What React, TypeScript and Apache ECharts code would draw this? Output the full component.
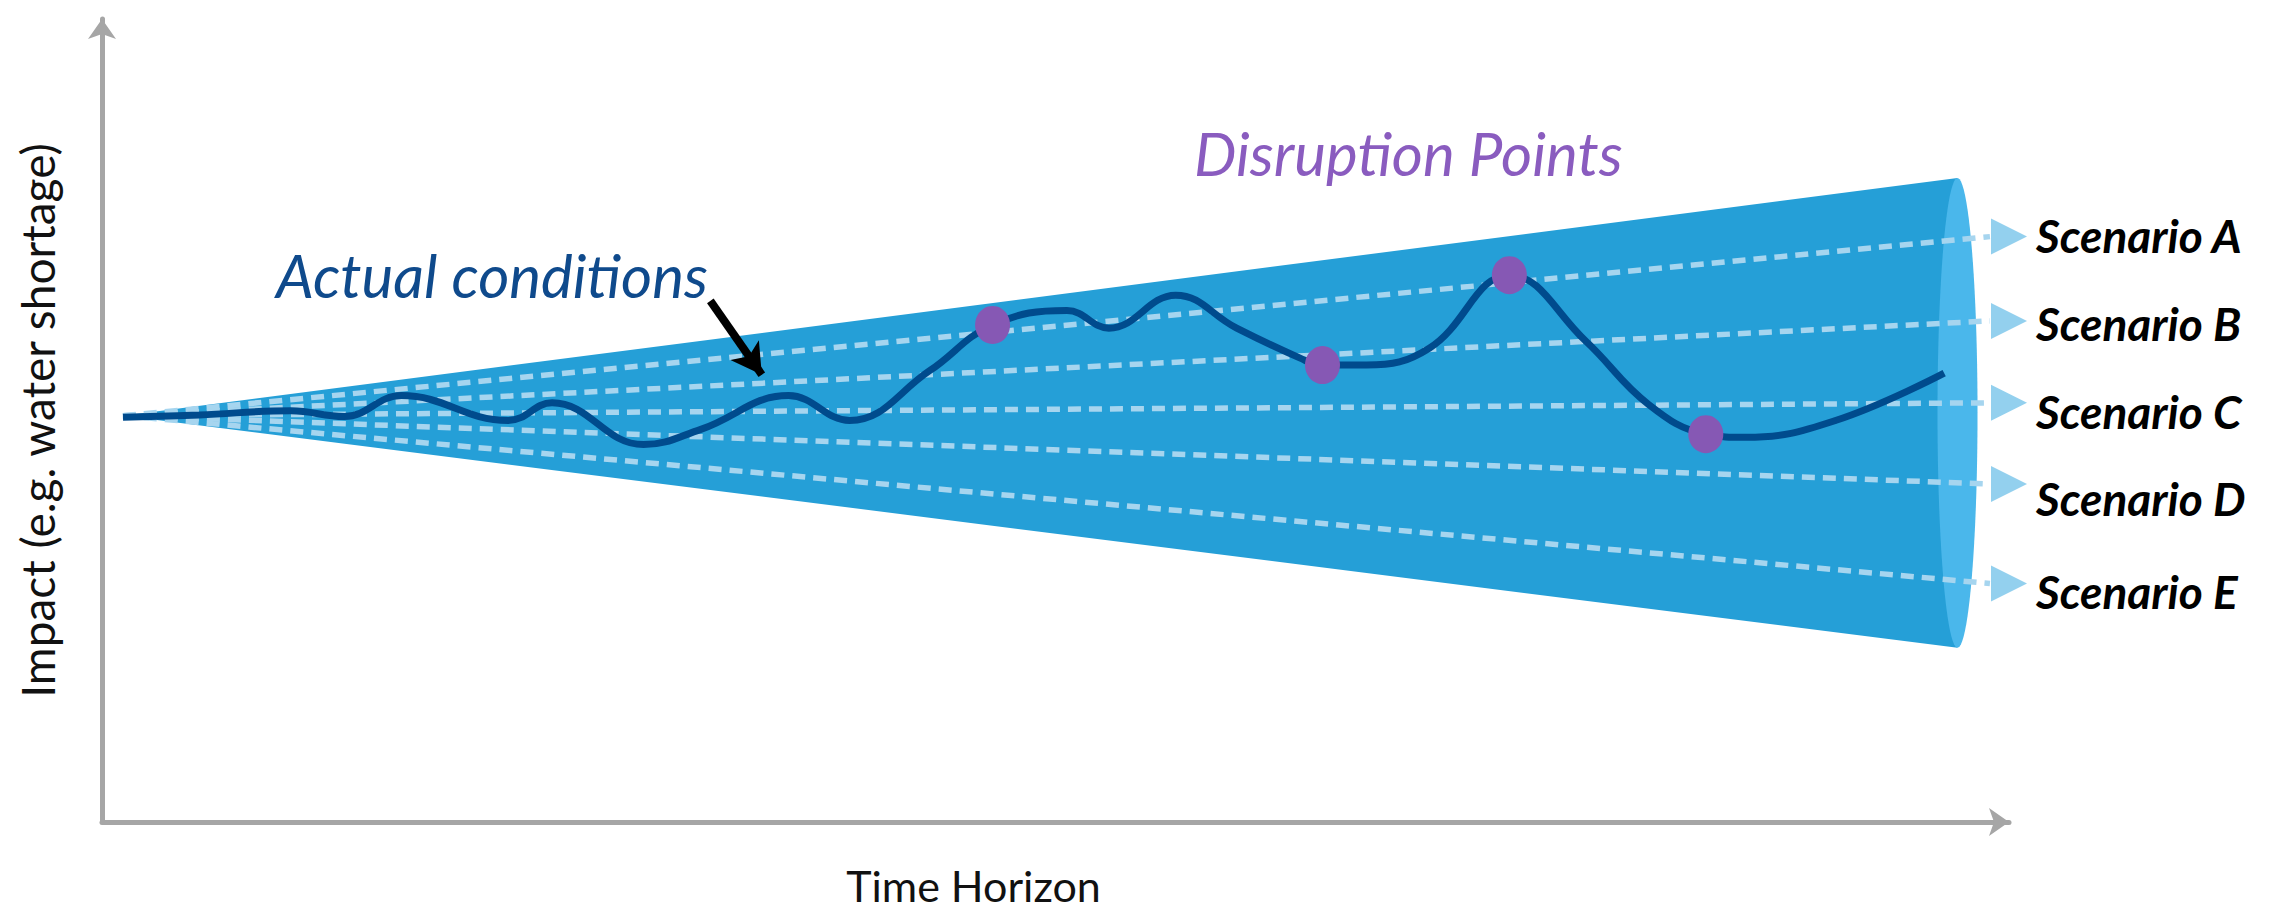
import React, { useEffect, useRef } from "react";
import * as echarts from "echarts";

// ---- Data (abstract units: time 0..100, impact 0..100) ----
const timePoints = [1.1, 5.1, 9.9, 12.7, 15.7, 21.3, 23.6, 28.4, 31.4, 36.0, 39.2, 43.4, 46.7, 50.6, 52.8, 56.3, 59.5, 62.8, 64.0, 66.3, 69.6, 73.8, 77.8, 81.1, 84.1, 86.2, 90.9, 96.6];
const impactValues = [50.4, 50.7, 51.2, 50.5, 53.1, 50.0, 52.2, 47.0, 48.9, 53.1, 50.0, 56.2, 61.9, 63.7, 61.5, 65.6, 61.5, 57.8, 56.9, 56.9, 59.0, 68.1, 59.9, 52.0, 48.3, 47.9, 50.0, 55.9];

const disruptionTime = [46.7, 64.0, 73.8, 84.1];
const disruptionImpact = [61.9, 56.9, 68.1, 48.3];

const scenarioNames = ["Scenario A", "Scenario B", "Scenario C", "Scenario D", "Scenario E"];
const scenarioEndImpact = [72.9, 62.4, 52.2, 42.1, 29.7];
const scenarioLineEnd = 99.0;
const scenarioArrowTime = 100.0;

// cone: apex, then top-right / bottom-right at the cap
const coneTime = [1.1, 97.3];
const coneImpact = [50.6, 80.2, 21.7];
const capHalfTime = 1.05;

// pointer arrow for "Actual conditions"
const pointerFrom = [31.9, 64.9];
const pointerTo = [34.6, 55.7];

// label vertical shifts (px) – style only
const scenarioLabelShift = [-1, 3, 9, 15, 8];

const FONT = "Lato";

export default function App() {
  const ref = useRef<HTMLDivElement>(null);

  useEffect(() => {
    if (!ref.current) return;
    const chart = echarts.init(ref.current, null, { renderer: "svg" });

    const curveData = timePoints.map((t, i) => [t, impactValues[i]]);
    const dotData = disruptionTime.map((t, i) => [t, disruptionImpact[i]]);

    const option: any = {
      animation: false,
      backgroundColor: "#ffffff",
      grid: { left: 102, right: 265, top: 19, bottom: 85, containLabel: false },
      xAxis: {
        type: "value",
        min: 0,
        max: 100,
        axisLine: {
          show: true,
          onZero: false,
          symbol: ["none", "arrow"],
          symbolSize: [21, 20],
          lineStyle: { color: "#a6a6a6", width: 5 },
        },
        axisTick: { show: false },
        axisLabel: { show: false },
        splitLine: { show: false },
        name: "Time Horizon",
        nameLocation: "middle",
        nameGap: 42,
        nameTextStyle: {
          fontFamily: FONT,
          fontSize: 43,
          color: "#111111",
          padding: [0, 164, 0, 0],
        },
      },
      yAxis: {
        type: "value",
        min: 0,
        max: 100,
        axisLine: {
          show: true,
          onZero: false,
          symbol: ["none", "arrow"],
          symbolSize: [21, 20],
          lineStyle: { color: "#a6a6a6", width: 5 },
        },
        axisTick: { show: false },
        axisLabel: { show: false },
        splitLine: { show: false },
        name: "Impact (e.g. water shortage)",
        nameLocation: "middle",
        nameRotate: 90,
        nameGap: 42,
        nameTextStyle: { fontFamily: FONT, fontSize: 46, color: "#111111" },
      },
      graphic: [
        {
          type: "text",
          x: 276,
          y: 275,
          style: {
            text: "Actual conditions",
            fontFamily: FONT,
            fontStyle: "italic",
            fontSize: 60,
            fill: "#0f4a8c",
            align: "left",
            verticalAlign: "middle",
          },
        },
        {
          type: "text",
          x: 1194,
          y: 153,
          style: {
            text: "Disruption Points",
            fontFamily: FONT,
            fontStyle: "italic",
            fontSize: 60,
            fill: "#8a5cbf",
            align: "left",
            verticalAlign: "middle",
          },
        },
      ],
      series: [
        {
          type: "custom",
          z: 1,
          silent: true,
          data: [[coneTime[0], coneImpact[0]]],
          renderItem: (_params: any, api: any) => {
            const apex = api.coord([coneTime[0], coneImpact[0]]);
            const top = api.coord([coneTime[1], coneImpact[1]]);
            const bot = api.coord([coneTime[1], coneImpact[2]]);
            const rx = api.size([capHalfTime, 0])[0];
            const cy = (top[1] + bot[1]) / 2;
            const ry = (bot[1] - top[1]) / 2;
            const pts: number[][] = [];
            for (let i = 0; i <= 90; i++) {
              const a = (i / 90) * Math.PI * 2;
              pts.push([top[0] + rx * Math.cos(a), cy + ry * Math.sin(a)]);
            }
            return {
              type: "group",
              children: [
                { type: "polygon", shape: { points: [apex, top, bot] }, style: { fill: "#259fd7" } },
                { type: "polygon", shape: { points: pts }, style: { fill: "#4ab7eb" } },
              ],
            };
          },
        },
        {
          type: "lines",
          coordinateSystem: "cartesian2d",
          z: 2,
          silent: true,
          lineStyle: { color: "#a6d5ef", width: 5.5, type: [13, 8], opacity: 1 },
          data: scenarioEndImpact.map((v) => ({
            coords: [
              [coneTime[0], coneImpact[0]],
              [scenarioLineEnd, v],
            ],
          })),
        },
        {
          type: "scatter",
          z: 3,
          clip: false,
          silent: true,
          symbol: "path://M0 0L20 10L0 20Z",
          symbolSize: [36, 36],
          itemStyle: { color: "#93d0ee", opacity: 1 },
          label: {
            show: true,
            position: "right",
            distance: 9,
            formatter: (p: any) => scenarioNames[p.dataIndex],
            fontFamily: FONT,
            fontStyle: "italic",
            fontWeight: "bold",
            fontSize: 46,
            color: "#000000",
          },
          data: scenarioEndImpact.map((v, i) => ({
            value: [scenarioArrowTime, v],
            label: { offset: [0, scenarioLabelShift[i]] },
          })),
        },
        {
          type: "line",
          z: 4,
          silent: true,
          smooth: 0.42,
          showSymbol: false,
          symbol: "none",
          lineStyle: { color: "#004b8d", width: 7 },
          data: curveData,
          markLine: {
            silent: true,
            symbol: ["none", "arrow"],
            symbolSize: [26, 30],
            label: { show: false },
            lineStyle: { color: "#000000", width: 8, type: "solid" },
            data: [[{ coord: pointerFrom }, { coord: pointerTo }]],
          },
        },
        {
          type: "scatter",
          z: 5,
          silent: true,
          symbol: "circle",
          symbolSize: [35, 38],
          itemStyle: { color: "#8658b4", opacity: 1 },
          data: dotData,
        },
      ],
    };

    chart.setOption(option);
    return () => chart.dispose();
  }, []);

  return (
    <div
      ref={ref}
      style={{ position: "fixed", left: 0, top: 0, width: 2274, height: 912, background: "#fff" }}
    />
  );
}
